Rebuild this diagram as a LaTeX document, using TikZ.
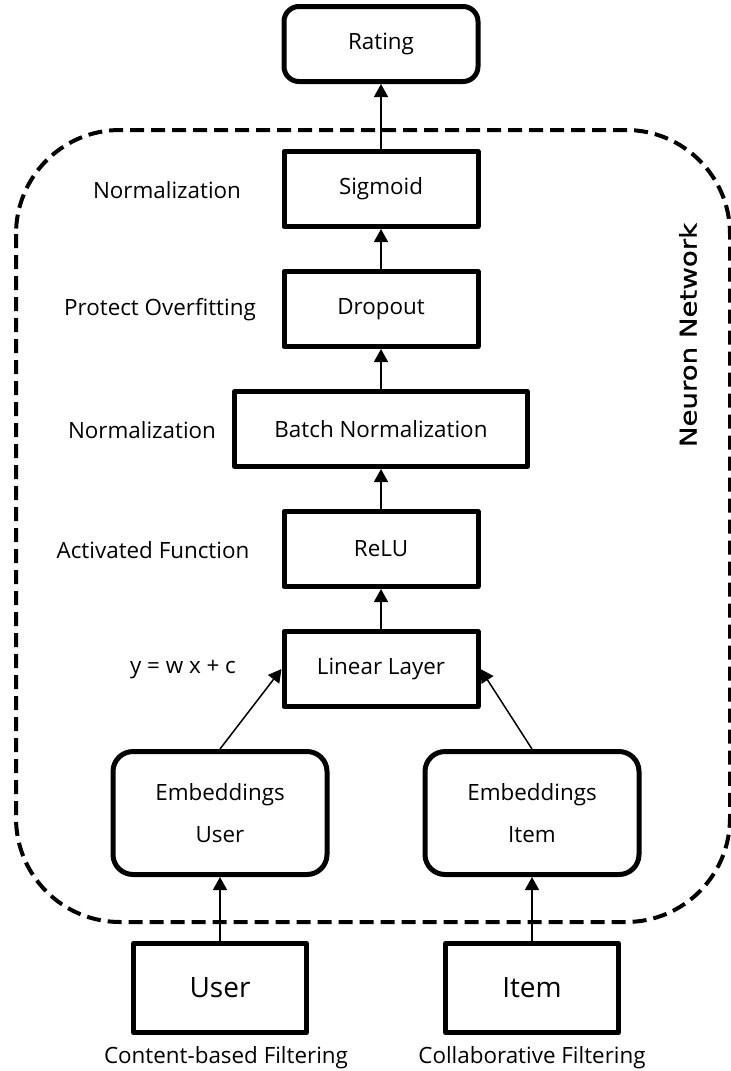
\documentclass[tikz,border=0pt]{standalone}
\usepackage{fontspec}
\setmainfont{Open Sans}
\newfontfamily\nnfont[FakeStretch=1.2,FakeBold=0.8]{DejaVu Sans}
\usetikzlibrary{arrows.meta}
\begin{document}
\begin{tikzpicture}[x=0.5pt, y=-0.5pt, line join=round,
	font=\fontsize{11.2}{13}\selectfont,
	arr/.style={-{Triangle[length=6.5pt,width=7pt]}, line width=0.75pt},
	layer/.style={draw, line width=2.5pt, inner sep=0pt, minimum width=97pt, minimum height=37.5pt},
	embbox/.style={layer, rounded corners=10pt, minimum width=107pt, minimum height=61.5pt, align=center, font=\fontsize{11.2}{21}\selectfont},
	inbox/.style={layer, minimum width=86.5pt, minimum height=44.5pt, font=\fontsize{14}{16}\selectfont},
	netbox/.style={draw, line width=2pt, dash pattern=on 7pt off 3.5pt, rounded corners=52pt}]
	\def\cx{381} \def\ux{220} \def\ix{532} % centres
	\useasboundingbox (0,0) rectangle (731,1071);
	% neuron network frame
	\draw[netbox] (16,130) rectangle (730,922);
	\node[rotate=90, font=\nnfont\fontsize{11.5}{13}\selectfont] (nn) at (688,335) {Neuron Network};
	% layers
	\node[layer, rounded corners=7.5pt] (rat) at (\cx,44) {Rating};
	\node[layer] (sig) at (\cx,189) {Sigmoid};
	\node[layer] (drop) at (\cx,309) {Dropout};
	\node[layer, minimum width=146.5pt] (bn) at (\cx,429) {Batch Normalization};
	\node[layer] (relu) at (\cx,549) {ReLU};
	\node[layer] (lin) at (\cx,669) {Linear Layer};
	\node[embbox] (embU) at (\ux,813) {Embeddings\\User};
	\node[embbox] (embI) at (\ix,813) {Embeddings\\Item};
	\node[inbox] (user) at (\ux,988) {User};
	\node[inbox] (item) at (\ix,988) {Item};
	% side notes
	\node (n1) at (167,190) {Normalization};
	\node (n2) at (160,310) {Protect Overfitting};
	\node (n3) at (142,430) {Normalization};
	\node (n4) at (153,550) {Activated Function};
	\node (n5) at (183,670) {y = w x + c};
	\node (c1) at (226,1058) {Content-based Filtering};
	\node (c2) at (532,1058) {Collaborative Filtering};
	% arrows
	\draw[arr] (user) -- (embU);
	\draw[arr] (item) -- (embI);
	\draw[arr] (embU.north) -- (lin.west);
	\draw[arr] (embI.north) -- (lin.east);
	\draw[arr] (lin) -- (relu);
	\draw[arr] (relu) -- (bn);
	\draw[arr] (bn) -- (drop);
	\draw[arr] (drop) -- (sig);
	\draw[arr] (sig) -- (rat);
\end{tikzpicture}
\end{document}
